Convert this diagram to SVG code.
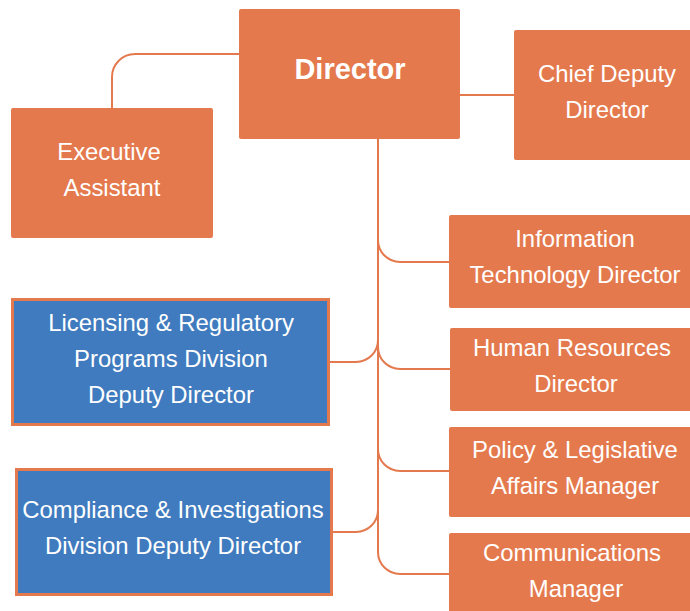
<svg xmlns="http://www.w3.org/2000/svg" width="690" height="611" viewBox="0 0 690 611">
<style>
.o{fill:#E4794D}
.b{fill:#3F7BBE;stroke:#E4794D;stroke-width:3}
.c{fill:none;stroke:#E4794D;stroke-width:2}
text{font-family:"Liberation Sans",Arial,sans-serif;font-size:23.9px;fill:#fff;text-anchor:middle}
.t{font-weight:bold;font-size:29px}
</style>
<g id="connectors">
<path class="c" d="M239 54 H135 A23 23 0 0 0 112 77 V108"/>
<path class="c" d="M460 95 H514"/>
<path class="c" d="M378 139 V240 A22 22 0 0 0 400 262 H449"/>
<path class="c" d="M378 139 V347 A22 22 0 0 0 400 369 H450"/>
<path class="c" d="M378 139 V449 A22 22 0 0 0 400 471 H450"/>
<path class="c" d="M378 139 V552 A22 22 0 0 0 400 574 H450"/>
<path class="c" d="M378 139 V340 A22 22 0 0 1 356 362 H330"/>
<path class="c" d="M378 139 V510 A22 22 0 0 1 356 532 H333"/>
</g>
<g id="director"><rect class="o" x="239" y="9" width="221" height="130" rx="2"/><text class="t" x="350" y="79">Director</text></g>
<g id="exec"><rect class="o" x="11" y="108" width="202" height="130" rx="2"/><text x="109" y="160">Executive</text><text x="112" y="196">Assistant</text></g>
<g id="chief"><rect class="o" x="514" y="30" width="180" height="130" rx="2"/><text x="607" y="82">Chief Deputy</text><text x="607" y="118">Director</text></g>
<g id="it"><rect class="o" x="449" y="215" width="245" height="93" rx="2"/><text x="575" y="247">Information</text><text x="575" y="283">Technology Director</text></g>
<g id="hr"><rect class="o" x="450" y="328" width="244" height="83" rx="2"/><text x="572" y="356">Human Resources</text><text x="576" y="392">Director</text></g>
<g id="policy"><rect class="o" x="449" y="427" width="245" height="90" rx="2"/><text x="575" y="458">Policy &amp; Legislative</text><text x="575" y="494">Affairs Manager</text></g>
<g id="comm"><rect class="o" x="449" y="533" width="245" height="85" rx="2"/><text x="572" y="561">Communications</text><text x="576" y="597">Manager</text></g>
<g id="licensing"><rect class="b" x="12.5" y="299.5" width="316" height="125"/><text x="171" y="331">Licensing &amp; Regulatory</text><text x="171" y="367">Programs Division</text><text x="171" y="403">Deputy Director</text></g>
<g id="compliance"><rect class="b" x="16.5" y="469.5" width="315" height="125"/><text x="173" y="518">Compliance &amp; Investigations</text><text x="173" y="554">Division Deputy Director</text></g>
</svg>
